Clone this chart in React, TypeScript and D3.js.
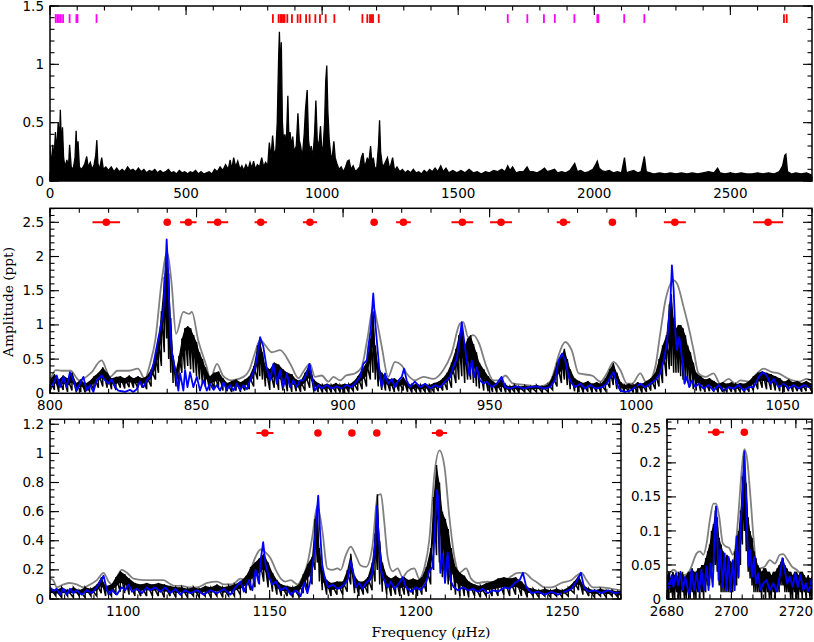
import React from 'react';
import * as d3 from 'd3';

type Pt = [number, number];
type Band = [number, number, number];

// full range periodogram (upper envelope of the black trace), uHz / ppt
const fullSpectrum: Pt[] = [
  [0,0.30],[5,0.12],[10,0.31],[15,0.2],[20,0.42],[25,0.25],[30,0.5],[35,0.35],[38,0.61],[42,0.3],[46,0.46],[50,0.2],[55,0.12],[62,0.18],[68,0.12],[72,0.31],[78,0.12],[85,0.1],[92,0.2],[96,0.43],[100,0.2],[103,0.34],[108,0.12],[115,0.1],[122,0.12],[128,0.15],[135,0.21],[140,0.12],[148,0.16],[155,0.1],[162,0.14],[168,0.22],[172,0.35],[176,0.15],[182,0.1],[190,0.2],[196,0.1],[205,0.12],[215,0.09],[225,0.12],[235,0.08],[245,0.11],[255,0.08],[265,0.1],[275,0.08],[285,0.12],[295,0.09],[305,0.1],[315,0.08],[325,0.11],[335,0.08],[345,0.1],[355,0.07],[365,0.09],[375,0.08],[385,0.1],[395,0.07],[405,0.09],[415,0.07],[425,0.08],[435,0.1],[445,0.07],[455,0.08],[465,0.06],[475,0.09],[485,0.07],[495,0.08],[505,0.06],[515,0.08],[525,0.07],[535,0.09],[545,0.06],[555,0.08],[565,0.06],[575,0.07],[585,0.08],[595,0.06],
  [605,0.1],[615,0.08],[625,0.12],[635,0.09],[645,0.14],[655,0.1],[662,0.18],[668,0.1],[675,0.2],[682,0.12],[690,0.17],[698,0.1],[705,0.13],[712,0.09],[720,0.14],[728,0.1],[735,0.16],[742,0.11],[748,0.17],[755,0.1],[762,0.14],[770,0.12],[778,0.2],[785,0.12],[792,0.16],[800,0.13],[806,0.33],[812,0.2],[818,0.39],[824,0.22],[830,0.27],[835,0.5],[840,1.05],[843,1.28],[847,0.9],[850,1.19],[854,0.5],[858,0.35],[863,0.4],[868,0.3],[874,0.73],[878,0.35],[882,0.42],[887,0.3],[892,0.38],[897,0.25],[905,0.3],[911,0.58],[916,0.35],[921,0.3],[927,0.2],[934,0.4],[939,0.62],[945,0.78],[950,0.35],[955,0.25],[960,0.3],[966,0.2],[972,0.4],[977,0.69],[982,0.35],[988,0.3],[994,0.47],[999,0.25],[1004,0.3],[1009,0.5],[1013,0.85],[1017,0.99],[1021,0.6],[1026,0.35],[1032,0.22],[1037,0.2],[1043,0.34],[1048,0.2],[1054,0.15],[1062,0.1],[1070,0.12],[1078,0.08],[1086,0.12],[1093,0.17],[1099,0.18],[1106,0.1],[1114,0.13],[1122,0.08],[1130,0.1],[1138,0.12],[1144,0.2],[1150,0.24],[1156,0.12],[1162,0.16],[1166,0.2],[1171,0.15],[1178,0.3],[1183,0.15],[1188,0.2],[1193,0.12],[1200,0.1],[1207,0.3],[1211,0.52],[1215,0.25],[1222,0.12],[1230,0.15],[1240,0.2],[1248,0.1],[1259,0.2],[1266,0.09],
  [1275,0.12],[1285,0.08],[1295,0.1],[1305,0.07],[1315,0.09],[1325,0.07],[1335,0.1],[1345,0.07],[1355,0.08],[1365,0.06],[1375,0.09],[1385,0.07],[1395,0.1],[1405,0.08],[1415,0.11],[1425,0.08],[1436,0.13],[1445,0.08],[1455,0.11],[1465,0.07],[1480,0.09],[1495,0.07],[1510,0.09],[1525,0.07],[1540,0.1],[1555,0.07],[1570,0.08],[1585,0.06],[1600,0.08],[1615,0.07],[1630,0.09],[1645,0.08],[1660,0.1],[1672,0.08],[1682,0.13],[1690,0.09],[1700,0.12],[1712,0.07],[1725,0.08],[1740,0.08],[1753,0.12],[1762,0.08],[1775,0.08],[1790,0.07],[1805,0.09],[1817,0.11],[1827,0.08],[1840,0.09],[1854,0.1],[1865,0.07],[1880,0.08],[1895,0.07],[1910,0.09],[1928,0.15],[1938,0.08],[1950,0.09],[1965,0.07],[1980,0.08],[1995,0.1],[2005,0.14],[2011,0.17],[2018,0.11],[2028,0.09],[2040,0.08],[2055,0.09],[2070,0.07],[2085,0.08],[2100,0.07],[2111,0.2],[2118,0.07],[2130,0.08],[2145,0.09],[2160,0.07],[2172,0.08],[2184,0.21],[2191,0.08],[2205,0.07],[2220,0.06],[2240,0.07],[2260,0.06],[2280,0.07],[2300,0.06],[2320,0.07],[2340,0.06],[2360,0.07],[2380,0.06],[2400,0.07],[2420,0.08],[2440,0.07],[2453,0.11],[2462,0.07],[2480,0.06],[2500,0.07],[2520,0.06],[2540,0.07],[2560,0.06],[2580,0.06],[2600,0.07],[2620,0.06],[2640,0.07],[2660,0.06],[2680,0.08],[2692,0.13],[2700,0.22],[2704,0.23],[2710,0.08],[2725,0.06],[2740,0.07],[2760,0.06],[2780,0.07],[2800,0.05],
];

const magentaFreqs = [21, 27, 33, 40, 48, 72, 97, 101, 171, 1682, 1754, 1815, 1855, 1927, 2011, 2015, 2110, 2184];
const redFreqs = [819, 840, 847, 852, 857, 862, 872, 889, 910, 920, 941, 954, 975, 992, 1013, 1045, 1148, 1166, 1176, 1182, 1187, 1208, 2697, 2707];

// 800-1060 uHz panel
const gray2: Pt[] = [
  [800,0.19],[802,0.34],[804,0.33],[807,0.33],[810,0.19],[814,0.3],[817.6,0.48],[820.5,0.24],[823,0.33],[827,0.33],[830,0.36],[832.4,0.21],[834,0.41],[836,0.8],[838,1.6],[840,2.06],[841.5,1.6],[843,0.87],[845.5,1.19],[847.5,1.16],[848.4,1.19],[850.6,0.77],[853.5,0.38],[854.6,0.21],[857,0.43],[859,0.26],[862,0.19],[866,0.24],[868,0.34],[870,0.6],[871.7,0.78],[873.5,0.7],[875.7,0.6],[878.5,0.63],[882,0.43],[884.8,0.22],[886.5,0.32],[888.7,0.43],[890.4,0.24],[892.7,0.26],[895,0.17],[896.7,0.24],[899,0.19],[901,0.26],[904,0.29],[906.3,0.38],[908.3,0.8],[910.3,1.26],[911.8,1.0],[913.2,0.68],[915.4,0.24],[917.7,0.46],[920,0.41],[921.7,0.29],[924.5,0.19],[927.4,0.24],[930.8,0.21],[934.2,0.34],[937,0.58],[939.9,1.02],[941,1.04],[942.7,0.82],[944.5,0.85],[946.2,0.75],[949,0.38],[951.3,0.19],[953.6,0.19],[955.3,0.26],[958.1,0.14],[962.7,0.12],[967,0.1],[970.6,0.17],[972.4,0.38],[973.5,0.55],[975.8,0.75],[978,0.63],[980.4,0.29],[985,0.26],[987.8,0.17],[990,0.29],[992.3,0.46],[994.6,0.34],[996.9,0.14],[998.6,0.14],[1001.4,0.29],[1003.7,0.14],[1006.5,0.38],[1008.2,0.87],[1010,1.36],[1011.7,1.6],[1012.8,1.65],[1014,1.6],[1016.2,1.26],[1017.9,0.97],[1019.6,0.63],[1021.3,0.29],[1023.6,0.24],[1026.4,0.29],[1028.7,0.14],[1031.6,0.21],[1033.8,0.14],[1035.5,0.19],[1038.4,0.17],[1041.2,0.29],[1043.5,0.36],[1046.3,0.31],[1048.6,0.29],[1052,0.21],[1055.5,0.17],[1058.3,0.21],[1060,0.17],
];
// black trace as [freq, low, high] swings
const black2: Band[] = [
  [800,0.02,0.2],[801.5,0.05,0.28],[803,0.02,0.2],[804.5,0.05,0.26],[806,0.02,0.22],[807.5,0.04,0.3],[809,0.01,0.15],[810.5,0.02,0.2],[812,0.01,0.14],[813.5,0.03,0.18],[815,0.05,0.25],[816.5,0.08,0.3],[818,0.1,0.38],[819.5,0.08,0.3],[821,0.06,0.22],[822.5,0.05,0.24],[824,0.08,0.25],[825.5,0.07,0.22],[827,0.09,0.26],[828.5,0.08,0.22],[830,0.07,0.25],[831.5,0.08,0.22],[833,0.06,0.25],[834.5,0.1,0.35],[836,0.2,0.55],[837,0.3,0.8],[838,0.4,1.2],[839,0.6,1.7],[839.8,0.8,2.02],[840.5,0.5,1.75],[841.2,0.3,1.1],[842,0.15,0.55],[843,0.1,0.35],[844,0.15,0.55],[845,0.3,0.8],[846,0.35,0.95],[847,0.4,0.98],[848,0.35,0.95],[849,0.3,0.85],[850,0.25,0.75],[851,0.2,0.6],[852,0.15,0.5],[853,0.1,0.38],[854.5,0.04,0.25],[856,0.06,0.3],[857.5,0.08,0.32],[859,0.04,0.22],[860.5,0.03,0.15],[862,0.02,0.18],[863.5,0.04,0.2],[865,0.02,0.16],[866.5,0.04,0.2],[868,0.06,0.25],[869.5,0.1,0.4],[870.8,0.2,0.7],[871.6,0.25,0.78],[872.5,0.2,0.6],[873.5,0.1,0.4],[875,0.05,0.35],[876.5,0.08,0.45],[878,0.05,0.42],[879.5,0.04,0.35],[881,0.03,0.3],[882.5,0.02,0.28],[884,0.03,0.2],[885.5,0.02,0.18],[887,0.04,0.3],[888.6,0.08,0.42],[890,0.03,0.2],[891.5,0.02,0.15],[893,0.01,0.12],[894.5,0.02,0.14],[896,0.01,0.12],[897.5,0.02,0.15],[899,0.01,0.12],[900.5,0.02,0.14],[902,0.01,0.13],[903.5,0.03,0.17],[905,0.04,0.25],[906.5,0.06,0.35],[908,0.1,0.45],[909.3,0.2,0.8],[910.2,0.3,1.2],[911,0.2,0.7],[912,0.1,0.4],[913.2,0.05,0.3],[914.5,0.04,0.25],[916,0.03,0.2],[917.5,0.02,0.22],[919,0.03,0.18],[920.5,0.04,0.24],[922,0.02,0.15],[923.5,0.01,0.12],[925,0.02,0.14],[926.5,0.01,0.12],[928,0.02,0.14],[929.5,0.01,0.12],[931,0.02,0.15],[932.5,0.03,0.17],[934,0.04,0.22],[935.5,0.05,0.3],[937,0.08,0.45],[938.5,0.15,0.65],[939.5,0.2,0.85],[940.5,0.25,0.97],[941.5,0.15,0.7],[942.5,0.2,0.8],[943.5,0.2,0.85],[944.5,0.15,0.72],[945.5,0.1,0.6],[946.5,0.07,0.45],[948,0.04,0.35],[949.5,0.03,0.25],[951,0.02,0.18],[952.5,0.01,0.14],[954,0.02,0.2],[955.5,0.01,0.12],[957,0.01,0.1],[958.5,0.02,0.12],[960,0.01,0.1],[962,0.02,0.11],[964,0.01,0.1],[966,0.02,0.12],[968,0.01,0.1],[970,0.02,0.13],[971.5,0.05,0.25],[973,0.1,0.45],[974.5,0.15,0.55],[975.5,0.2,0.65],[976.5,0.12,0.5],[977.5,0.06,0.35],[979,0.03,0.22],[980.5,0.02,0.18],[982,0.01,0.15],[983.5,0.02,0.18],[985,0.01,0.14],[986.5,0.02,0.16],[988,0.01,0.14],[989.5,0.04,0.22],[991,0.08,0.35],[992.2,0.12,0.44],[993.4,0.06,0.3],[994.8,0.02,0.16],[996,0.01,0.12],[997.5,0.02,0.14],[999,0.01,0.12],[1000.5,0.02,0.16],[1002,0.01,0.14],[1003.5,0.02,0.18],[1005,0.04,0.22],[1006.5,0.06,0.3],[1007.8,0.1,0.5],[1009,0.15,0.7],[1010.3,0.25,0.85],[1011.3,0.35,1.3],[1012,0.4,1.45],[1012.8,0.3,1.1],[1013.6,0.3,0.95],[1014.4,0.3,1.0],[1015.2,0.25,1.0],[1016,0.2,0.95],[1016.8,0.2,0.85],[1017.6,0.15,0.7],[1018.5,0.1,0.6],[1019.5,0.06,0.45],[1020.5,0.04,0.3],[1022,0.03,0.25],[1023.5,0.02,0.2],[1025,0.03,0.22],[1026.5,0.02,0.18],[1028,0.01,0.14],[1029.5,0.02,0.16],[1031,0.01,0.14],[1032.5,0.02,0.16],[1034,0.01,0.13],[1035.5,0.02,0.15],[1037,0.01,0.14],[1038.5,0.02,0.18],[1040,0.04,0.25],[1041.5,0.06,0.3],[1043,0.08,0.32],[1044.5,0.06,0.3],[1046,0.05,0.28],[1047.5,0.04,0.25],[1049,0.03,0.22],[1050.5,0.02,0.17],[1052,0.03,0.2],[1053.5,0.02,0.16],[1055,0.03,0.18],[1056.5,0.02,0.15],[1058,0.03,0.18],[1060,0.02,0.14],
];
const blue2: Pt[] = [
  [800,0.04],[801.1,0.14],[802.3,0.26],[803.4,0.09],[804.6,0.24],[805.7,0.09],[806.8,0.31],[808,0.19],[809.1,0.04],[810.2,0.14],[811.4,0.24],[812.5,0.04],[813.7,0.12],[814.8,0.02],[815.9,0.19],[817.6,0.26],[818.8,0.19],[819.9,0.14],[821,0.21],[822.2,0.09],[823.3,0.04],[824.5,0.03],[825.6,0.02],[827.3,0.05],[828.4,0.02],[829.6,0.06],[830.7,0.17],[831.9,0.09],[833,0.19],[834.1,0.24],[835.3,0.43],[836.4,0.68],[837.5,0.92],[838.7,1.21],[839.5,1.9],[839.8,2.25],[840.2,1.9],[841,0.92],[841.5,0.63],[842.7,0.34],[843.8,0.04],[844.4,0.29],[845.5,0.04],[846.1,0.34],[846.9,0.09],[847.8,0.31],[848.9,0.09],[850.1,0.24],[851.2,0.04],[852.3,0.19],[853.5,0.04],[854.6,0.14],[855.8,0.05],[856.9,0.12],[858,0.04],[859.2,0.16],[860.3,0.05],[861.4,0.12],[862.6,0.04],[863.7,0.14],[864.9,0.05],[866,0.12],[867.2,0.06],[868.3,0.19],[870,0.38],[871.7,0.82],[872.8,0.68],[873.9,0.38],[875.1,0.19],[876.2,0.43],[877.4,0.14],[878.5,0.34],[879.6,0.09],[880.8,0.29],[881.9,0.09],[883,0.19],[884.2,0.09],[885.3,0.19],[886.4,0.19],[887.6,0.29],[888.5,0.43],[889.3,0.24],[890.4,0.04],[891.6,0.12],[892.7,0.07],[894.4,0.12],[896.1,0.07],[897.8,0.1],[899.5,0.07],[901.2,0.12],[902.9,0.09],[904.6,0.17],[905.8,0.24],[906.9,0.43],[908.1,0.48],[908.6,0.68],[909.4,0.92],[910.3,1.46],[911,1.02],[911.7,0.68],[912.6,0.24],[913.2,0.09],[914.3,0.29],[915.4,0.14],[916.6,0.21],[917.7,0.09],[918.9,0.19],[920,0.24],[920.8,0.36],[921.7,0.19],[922.8,0.09],[924.5,0.17],[926.3,0.09],[928,0.14],[929.7,0.07],[931.4,0.12],[933.1,0.09],[934.8,0.17],[936.5,0.24],[937.6,0.38],[938.8,0.51],[939.7,0.77],[940.5,1.04],[941.3,0.77],[942.2,0.48],[943.1,0.26],[943.9,0.48],[944.7,0.24],[945.6,0.38],[946.7,0.19],[947.9,0.14],[949,0.17],[950.7,0.09],[952.4,0.14],[954.1,0.24],[955.3,0.09],[957,0.07],[959.2,0.1],[961.5,0.07],[963.8,0.09],[966.1,0.1],[968.3,0.07],[970.6,0.09],[972.3,0.19],[973.5,0.48],[974.7,0.58],[975.8,0.48],[977,0.24],[978.1,0.14],[979.2,0.09],[980.9,0.14],[982.6,0.07],[984.3,0.12],[986.1,0.07],[988.3,0.09],[990,0.14],[991.2,0.24],[992.3,0.31],[993.4,0.14],[994.6,0.04],[996.3,0.02],[998,0.04],[999.7,0.09],[1001.4,0.14],[1003.1,0.09],[1004.8,0.14],[1006.5,0.19],[1008.2,0.29],[1009.4,0.48],[1010.5,0.73],[1011.7,1.36],[1012.2,1.87],[1012.8,1.51],[1013.4,0.87],[1013.9,0.63],[1014.7,0.82],[1015.6,0.53],[1016.5,0.14],[1017.3,0.24],[1018.1,0.09],[1019,0.19],[1020.2,0.09],[1021.3,0.14],[1023,0.07],[1024.7,0.12],[1026.4,0.04],[1028.1,0.12],[1029.9,0.04],[1031.6,0.09],[1033.3,0.07],[1035,0.12],[1036.7,0.04],[1038.4,0.09],[1040.1,0.09],[1041.8,0.24],[1043.2,0.31],[1044.6,0.26],[1045.8,0.14],[1046.9,0.21],[1048.6,0.09],[1050.3,0.14],[1052,0.07],[1053.7,0.12],[1055.5,0.07],[1057.2,0.12],[1058.9,0.09],[1060,0.12],
];
// [freq, half error bar]
const dots2: Pt[] = [[819.2,4.7],[840.0,0],[847.2,2.8],[857.2,3.6],[871.9,2.1],[888.7,2.4],[910.6,0],[920.6,2.5],[940.7,3.7],[953.9,3.75],[975.2,2.3],[991.9,0],[1013.2,3.75],[1045,5.1]];
const dots2Level = 2.5;

// 1075-1270 uHz panel
const gray3: Pt[] = [
  [1075,0.14],[1076.1,0.13],[1077.3,0.08],[1079.6,0.1],[1081.8,0.11],[1084.1,0.1],[1086.4,0.08],[1088.7,0.1],[1091,0.13],[1093.3,0.18],[1095,0.12],[1096.1,0.1],[1097.8,0.15],[1099.5,0.2],[1101.3,0.18],[1103.5,0.14],[1107,0.13],[1110.4,0.13],[1113.8,0.13],[1115.5,0.11],[1117.8,0.09],[1120.1,0.09],[1122.4,0.08],[1125.2,0.08],[1128.7,0.11],[1132.1,0.12],[1134.4,0.1],[1137.2,0.1],[1140.1,0.14],[1141.8,0.13],[1143.5,0.2],[1145.2,0.29],[1146.9,0.34],[1148.6,0.32],[1150.3,0.28],[1152.1,0.2],[1153.8,0.14],[1155.5,0.12],[1157.2,0.13],[1159.5,0.1],[1161.2,0.15],[1162.9,0.24],[1164.6,0.43],[1166.3,0.64],[1168,0.47],[1169.7,0.21],[1171.5,0.2],[1173.2,0.21],[1174.3,0.2],[1176,0.3],[1177.7,0.36],[1179.4,0.3],[1181.1,0.23],[1182.9,0.22],[1185.1,0.36],[1186.9,0.71],[1188,0.72],[1189.1,0.54],[1190.3,0.29],[1192,0.19],[1193.7,0.21],[1195.4,0.15],[1197.1,0.19],[1199.4,0.21],[1201.1,0.14],[1202.8,0.21],[1204.5,0.4],[1206.3,0.86],[1208,1.02],[1209.7,0.91],[1211.4,0.56],[1213.1,0.29],[1214.8,0.18],[1217.1,0.21],[1218.8,0.14],[1221.1,0.11],[1224.5,0.12],[1228,0.11],[1231.4,0.14],[1234.8,0.18],[1237.1,0.18],[1239.4,0.14],[1241.6,0.11],[1243.9,0.08],[1246.2,0.08],[1249.6,0.11],[1253.1,0.13],[1254.8,0.16],[1256.5,0.18],[1258.2,0.13],[1260.5,0.08],[1263.3,0.08],[1266.8,0.07],[1270,0.06],
];
const black3: Band[] = [
  [1075,0.01,0.08],[1077,0.02,0.06],[1079,0.01,0.08],[1081,0.02,0.06],[1083,0.01,0.08],[1085,0.02,0.06],[1087,0.01,0.08],[1089,0.02,0.07],[1091,0.02,0.1],[1092.5,0.04,0.15],[1094,0.02,0.09],[1096,0.02,0.1],[1097.5,0.03,0.15],[1099,0.05,0.19],[1100.5,0.04,0.17],[1102,0.03,0.14],[1104,0.02,0.11],[1106,0.02,0.1],[1108,0.02,0.11],[1110,0.02,0.1],[1112,0.02,0.11],[1114,0.01,0.1],[1116,0.02,0.09],[1118,0.01,0.08],[1120,0.02,0.08],[1122,0.01,0.07],[1124,0.02,0.08],[1126,0.01,0.07],[1128,0.02,0.09],[1130,0.01,0.08],[1132,0.02,0.1],[1134,0.01,0.08],[1136,0.02,0.09],[1138,0.02,0.1],[1140,0.03,0.12],[1142,0.04,0.16],[1143.5,0.06,0.22],[1145,0.08,0.25],[1146.5,0.1,0.28],[1148,0.12,0.31],[1149.5,0.08,0.25],[1151,0.05,0.18],[1152.5,0.03,0.13],[1154,0.02,0.1],[1156,0.02,0.09],[1158,0.01,0.08],[1160,0.02,0.1],[1161.5,0.04,0.17],[1163,0.06,0.24],[1164.5,0.1,0.29],[1165.5,0.2,0.55],[1166.3,0.25,0.62],[1167,0.12,0.35],[1168,0.06,0.2],[1169.5,0.03,0.13],[1171,0.02,0.11],[1173,0.03,0.12],[1175,0.03,0.12],[1176.5,0.05,0.2],[1177.7,0.1,0.31],[1179,0.04,0.16],[1180.5,0.02,0.12],[1182,0.03,0.12],[1183.5,0.04,0.15],[1185,0.06,0.25],[1186,0.12,0.45],[1186.8,0.2,0.72],[1187.6,0.1,0.4],[1188.5,0.05,0.25],[1190,0.03,0.16],[1191.5,0.02,0.14],[1193,0.03,0.16],[1194.5,0.02,0.14],[1196,0.03,0.15],[1197.5,0.02,0.13],[1199,0.03,0.14],[1200.5,0.02,0.13],[1202,0.03,0.15],[1203.5,0.05,0.22],[1205,0.1,0.35],[1206,0.2,0.7],[1207,0.3,0.92],[1208,0.25,0.8],[1209,0.15,0.6],[1210,0.12,0.55],[1211,0.1,0.48],[1212,0.06,0.35],[1213.5,0.03,0.22],[1215,0.02,0.18],[1216.5,0.02,0.16],[1218,0.01,0.12],[1220,0.02,0.1],[1222,0.01,0.09],[1224,0.02,0.11],[1226,0.02,0.12],[1228,0.02,0.14],[1230,0.03,0.15],[1232,0.02,0.14],[1234,0.03,0.15],[1236,0.02,0.12],[1238,0.01,0.08],[1240,0.02,0.07],[1242,0.01,0.06],[1244,0.02,0.07],[1246,0.01,0.06],[1248,0.02,0.07],[1250,0.01,0.06],[1252,0.02,0.08],[1254,0.04,0.12],[1255.5,0.06,0.16],[1257,0.03,0.1],[1259,0.02,0.07],[1261,0.01,0.06],[1263,0.02,0.07],[1265,0.01,0.06],[1267,0.02,0.06],[1269,0.01,0.05],[1270,0.02,0.05],
];
const blue3: Pt[] = [
  [1075,0.08],[1076.1,0.05],[1077.3,0.07],[1078.4,0.03],[1079.6,0.07],[1080.7,0.03],[1081.8,0.07],[1083,0.04],[1084.1,0.06],[1085.8,0.03],[1087.6,0.06],[1089.3,0.04],[1091,0.08],[1092.1,0.12],[1093.3,0.16],[1094.2,0.08],[1095,0.03],[1096.1,0.06],[1097.8,0.03],[1099.5,0.08],[1100.7,0.06],[1101.8,0.1],[1103,0.05],[1104.7,0.07],[1106.4,0.04],[1108.1,0.08],[1109.2,0.06],[1111,0.08],[1112.7,0.05],[1114.4,0.08],[1116.1,0.04],[1117.8,0.07],[1119.5,0.03],[1121.2,0.06],[1123,0.04],[1125.2,0.06],[1127.5,0.03],[1129.8,0.06],[1132.1,0.04],[1134.4,0.07],[1136.6,0.03],[1138.4,0.08],[1140.1,0.12],[1141.2,0.05],[1142.9,0.13],[1144.1,0.06],[1145.2,0.2],[1146.3,0.11],[1147.1,0.29],[1147.8,0.39],[1148.6,0.24],[1149.8,0.15],[1150.9,0.1],[1152.1,0.12],[1153.8,0.06],[1155.5,0.08],[1157.2,0.03],[1158.9,0.06],[1160.6,0.02],[1161.8,0.11],[1162.9,0.04],[1164,0.13],[1165.2,0.31],[1165.9,0.54],[1166.6,0.71],[1167.2,0.47],[1168,0.23],[1168.8,0.15],[1170,0.08],[1171.5,0.1],[1173.2,0.07],[1174.3,0.08],[1175.4,0.1],[1176.6,0.13],[1177.7,0.26],[1178.6,0.18],[1179.4,0.08],[1180.6,0.11],[1181.7,0.07],[1182.9,0.11],[1184,0.13],[1185.1,0.18],[1186.1,0.4],[1186.6,0.64],[1187.2,0.45],[1188,0.2],[1189.1,0.13],[1190.3,0.08],[1191.4,0.12],[1192.6,0.07],[1194.3,0.11],[1195.4,0.15],[1196.6,0.08],[1198.3,0.05],[1200,0.08],[1201.7,0.06],[1203.4,0.11],[1204.5,0.19],[1205.7,0.22],[1206.5,0.52],[1207.2,0.75],[1207.6,0.68],[1208.3,0.18],[1209.1,0.31],[1209.9,0.11],[1210.8,0.32],[1211.7,0.13],[1212.9,0.08],[1214.3,0.06],[1216,0.08],[1217.7,0.06],[1219.4,0.07],[1221.1,0.05],[1222.8,0.07],[1224.5,0.04],[1226.2,0.06],[1228,0.05],[1230.2,0.08],[1231.9,0.07],[1233.7,0.11],[1235.4,0.13],[1236.5,0.18],[1237.7,0.08],[1239.4,0.04],[1241.6,0.05],[1243.9,0.03],[1246.2,0.05],[1248.5,0.03],[1250.8,0.05],[1253.1,0.07],[1254.8,0.12],[1256.3,0.18],[1257.4,0.08],[1258.8,0.05],[1261.1,0.06],[1263.3,0.04],[1265.6,0.06],[1267.9,0.04],[1270,0.05],
];
const dots3: Pt[] = [[1148.4,2.9],[1166.5,0],[1178.1,0],[1186.6,0],[1208,2.6]];
const dots3Level = 1.14;

// 2680-2725 uHz panel
const gray4: Pt[] = [
  [2680,0.03],[2680.9,0.038],[2682,0.043],[2683.5,0.038],[2685.1,0.035],[2686.6,0.038],[2687.6,0.048],[2689.2,0.067],[2690.2,0.07],[2691.3,0.065],[2692.3,0.082],[2693.3,0.116],[2694.4,0.14],[2695.2,0.14],[2696.2,0.121],[2697.3,0.082],[2698.3,0.077],[2699.3,0.075],[2700.4,0.065],[2701.1,0.072],[2702.1,0.121],[2703.2,0.19],[2704,0.22],[2704.9,0.204],[2705.9,0.15],[2707,0.082],[2708,0.043],[2709,0.045],[2710.4,0.048],[2711.9,0.057],[2713.5,0.052],[2715,0.065],[2716.1,0.066],[2717.1,0.06],[2718.7,0.048],[2720.2,0.043],[2721.8,0.035],[2723.3,0.03],[2725,0.025],
];
const black4: Band[] = [
  [2680,0.01,0.035],[2680.6,0.0,0.04],[2681.2,0.01,0.03],[2681.8,0.0,0.04],[2682.4,0.0,0.035],[2683,0.01,0.03],[2683.6,0.0,0.04],[2684.2,0.0,0.035],[2684.8,0.01,0.04],[2685.4,0.0,0.03],[2686,0.0,0.035],[2686.6,0.01,0.04],[2687.2,0.0,0.04],[2687.8,0.01,0.045],[2688.4,0.0,0.04],[2689,0.0,0.04],[2689.6,0.01,0.045],[2690.2,0.0,0.045],[2690.8,0.01,0.05],[2691.4,0.0,0.05],[2692,0.01,0.06],[2692.6,0.02,0.07],[2693.2,0.02,0.08],[2693.8,0.03,0.1],[2694.4,0.04,0.11],[2695,0.05,0.13],[2695.6,0.04,0.12],[2696.2,0.02,0.09],[2696.8,0.01,0.08],[2697.4,0.01,0.07],[2698,0.01,0.06],[2698.6,0.01,0.065],[2699.2,0.01,0.06],[2699.8,0.01,0.055],[2700.4,0.01,0.05],[2701,0.02,0.07],[2701.6,0.02,0.09],[2702.2,0.03,0.1],[2702.8,0.05,0.13],[2703.4,0.08,0.18],[2704,0.1,0.21],[2704.6,0.07,0.17],[2705.2,0.04,0.12],[2705.8,0.03,0.1],[2706.4,0.02,0.09],[2707,0.01,0.07],[2707.6,0.01,0.06],[2708.2,0.01,0.05],[2708.8,0.01,0.045],[2709.4,0.0,0.04],[2710,0.01,0.045],[2710.6,0.0,0.045],[2711.2,0.01,0.04],[2711.8,0.0,0.04],[2712.4,0.0,0.035],[2713,0.01,0.04],[2713.6,0.0,0.04],[2714.2,0.01,0.045],[2714.8,0.01,0.05],[2715.4,0.02,0.055],[2716,0.02,0.06],[2716.6,0.01,0.05],[2717.2,0.01,0.045],[2717.8,0.01,0.04],[2718.4,0.0,0.04],[2719,0.0,0.035],[2719.6,0.01,0.04],[2720.2,0.0,0.04],[2720.8,0.0,0.035],[2721.4,0.01,0.04],[2722,0.0,0.04],[2722.6,0.01,0.035],[2723.2,0.0,0.03],[2723.8,0.01,0.035],[2724.4,0.0,0.03],[2725,0.0,0.03],
];
const blue4: Pt[] = [
  [2680,0.028],[2680.7,0.016],[2681.4,0.035],[2682,0.018],[2682.8,0.038],[2683.5,0.02],[2684.2,0.04],[2684.9,0.013],[2685.6,0.033],[2686.3,0.018],[2686.9,0.003],[2687.6,0.043],[2688.4,0.013],[2689.2,0.038],[2690,0.011],[2690.7,0.043],[2691.5,0.013],[2692.3,0.048],[2692.9,0.013],[2693.5,0.052],[2694.2,0.018],[2694.8,0.101],[2695.2,0.136],[2695.6,0.092],[2696,0.028],[2696.6,0.072],[2697.3,0.018],[2697.9,0.067],[2698.5,0.013],[2699.1,0.062],[2699.7,0.011],[2700.4,0.057],[2701,0.013],[2701.6,0.092],[2702.2,0.033],[2702.8,0.106],[2703.5,0.155],[2704,0.217],[2704.5,0.155],[2704.9,0.092],[2705.3,0.048],[2705.8,0.072],[2706.4,0.033],[2707,0.062],[2707.6,0.023],[2708.3,0.038],[2709,0.013],[2709.9,0.023],[2710.9,0.028],[2711.9,0.013],[2713,0.023],[2714,0.011],[2715,0.033],[2715.8,0.06],[2716.5,0.043],[2717.3,0.023],[2718.1,0.033],[2719,0.018],[2719.8,0.038],[2720.6,0.018],[2721.4,0.035],[2722.3,0.013],[2723.1,0.023],[2723.8,0.011],[2724.5,0.018],[2725,0.033],
];
const dots4: Pt[] = [[2695.2,2.5],[2704.0,0]];
const dots4Level = 0.245;

const TICK_FONT = "'DejaVu Sans', sans-serif";
const TITLE_FONT = "'DejaVu Serif', serif";
const BLUE = '#0000ff';
const GRAY = '#808080';
const RED = '#ff0000';
const MAGENTA = '#ff00ff';

type Scale = d3.ScaleLinear<number, number>;

interface PanelProps {
  id: string;
  left: number; right: number; top: number; bottom: number;
  xDomain: [number, number]; yDomain: [number, number];
  xMajor: number; xMinor: number; yMajor: number; yMinor: number;
  draw: (x: Scale, y: Scale) => React.ReactNode;
}

function steps(d: [number, number], step: number) {
  const start = Math.ceil(d[0] / step - 1e-6) * step;
  return d3.range(start, d[1] + step * 1e-3, step);
}
const fmt = (v: number) => String(+v.toFixed(3));

function Panel({ id, left, right, top, bottom, xDomain, yDomain, xMajor, xMinor, yMajor, yMinor, draw }: PanelProps) {
  const x = d3.scaleLinear().domain(xDomain).range([left, right]);
  const y = d3.scaleLinear().domain(yDomain).range([bottom, top]);
  const MJ = 9, MN = 4.5;
  return (
    <g>
      <defs>
        <clipPath id={id}>
          <rect x={left} y={top} width={right - left} height={bottom - top} />
        </clipPath>
      </defs>
      <g clipPath={`url(#${id})`}>{draw(x, y)}</g>
      <g stroke="#000" strokeWidth={1.1}>
        {steps(xDomain, xMinor).map((v, i) => (
          <g key={'xn' + i}>
            <line x1={x(v)} x2={x(v)} y1={bottom} y2={bottom - MN} />
            <line x1={x(v)} x2={x(v)} y1={top} y2={top + MN} />
          </g>
        ))}
        {steps(xDomain, xMajor).map((v, i) => (
          <g key={'xj' + i}>
            <line x1={x(v)} x2={x(v)} y1={bottom} y2={bottom - MJ} />
            <line x1={x(v)} x2={x(v)} y1={top} y2={top + MJ} />
          </g>
        ))}
        {steps(yDomain, yMinor).map((v, i) => (
          <g key={'yn' + i}>
            <line x1={left} x2={left + MN} y1={y(v)} y2={y(v)} />
            <line x1={right} x2={right - MN} y1={y(v)} y2={y(v)} />
          </g>
        ))}
        {steps(yDomain, yMajor).map((v, i) => (
          <g key={'yj' + i}>
            <line x1={left} x2={left + MJ} y1={y(v)} y2={y(v)} />
            <line x1={right} x2={right - MJ} y1={y(v)} y2={y(v)} />
          </g>
        ))}
      </g>
      <rect x={left} y={top} width={right - left} height={bottom - top} fill="none" stroke="#000" strokeWidth={1.5} />
      <g fontFamily={TICK_FONT} fontSize={13.5} fill="#000">
        {steps(xDomain, xMajor).map((v, i) => (
          <text key={'xl' + i} x={x(v)} y={bottom + 17} textAnchor="middle">{fmt(v)}</text>
        ))}
        {steps(yDomain, yMajor).map((v, i) => (
          <text key={'yl' + i} x={left - 6} y={y(v)} dy="0.34em" textAnchor="end">{fmt(v)}</text>
        ))}
      </g>
    </g>
  );
}

function Spectra({ x, y, gray, black, blue, dots, level }: {
  x: Scale; y: Scale; gray: Pt[]; black: Band[]; blue: Pt[]; dots: Pt[]; level: number;
}) {
  const grayLine = d3.line<Pt>().x(d => x(d[0])).y(d => y(d[1])).curve(d3.curveMonotoneX);
  // black trace swings between its low and high value at every listed frequency
  const swing = d3.line<Pt>().x(d => x(d[0])).y(d => y(d[1]));
  const swingPts: Pt[] = black.flatMap(d => [[d[0], d[1]], [d[0], d[2]]] as Pt[]);
  const band = d3.area<Band>().x(d => x(d[0])).y0(d => y(d[1] + (d[2] - d[1]) * 0.45)).y1(d => y(d[2]));
  const blueLine = d3.line<Pt>().x(d => x(d[0])).y(d => y(d[1]));
  return (
    <g>
      <path d={grayLine(gray) ?? ''} fill="none" stroke={GRAY} strokeWidth={1.8} />
      <path d={band(black) ?? ''} fill="#000" stroke="none" />
      <path d={swing(swingPts) ?? ''} fill="none" stroke="#000" strokeWidth={1.5} />
      <path d={blueLine(blue) ?? ''} fill="none" stroke={BLUE} strokeWidth={1.8} strokeLinejoin="round" />
      {dots.map((d, i) => (
        <g key={i}>
          {d[1] > 0 && <line x1={x(d[0] - d[1])} x2={x(d[0] + d[1])} y1={y(level)} y2={y(level)} stroke={RED} strokeWidth={2} />}
          <circle cx={x(d[0])} cy={y(level)} r={3.8} fill={RED} />
        </g>
      ))}
    </g>
  );
}

export default function App() {
  return (
    <svg width={814} height={642} style={{ position: 'absolute', left: 0, top: 0, background: '#fff' }}>
      <Panel
        id="p1" left={50} right={812} top={6} bottom={181}
        xDomain={[0, 2800]} yDomain={[0, 1.5]} xMajor={500} xMinor={100} yMajor={0.5} yMinor={0.1}
        draw={(x, y) => {
          const env = d3.area<Pt>().x(d => x(d[0])).y0(y(0)).y1(d => y(d[1]));
          return (
            <g>
              <path d={env(fullSpectrum) ?? ''} fill="#000" stroke="#000" strokeWidth={1.3} />
              {magentaFreqs.map((f, i) => (
                <line key={'m' + i} x1={x(f)} x2={x(f)} y1={y(1.355)} y2={y(1.43)} stroke={MAGENTA} strokeWidth={1.8} />
              ))}
              {redFreqs.map((f, i) => (
                <line key={'r' + i} x1={x(f)} x2={x(f)} y1={y(1.355)} y2={y(1.43)} stroke={RED} strokeWidth={1.8} />
              ))}
            </g>
          );
        }}
      />
      <Panel
        id="p2" left={50} right={812} top={208.3} bottom={393.3}
        xDomain={[800, 1060]} yDomain={[0, 2.705]} xMajor={50} xMinor={10} yMajor={0.5} yMinor={0.1}
        draw={(x, y) => <Spectra x={x} y={y} gray={gray2} black={black2} blue={blue2} dots={dots2} level={dots2Level} />}
      />
      <Panel
        id="p3" left={50} right={621} top={419.3} bottom={599}
        xDomain={[1075, 1270]} yDomain={[0, 1.234]} xMajor={50} xMinor={5} yMajor={0.2} yMinor={0.05}
        draw={(x, y) => <Spectra x={x} y={y} gray={gray3} black={black3} blue={blue3} dots={dots3} level={dots3Level} />}
      />
      <Panel
        id="p4" left={667} right={812} top={419.3} bottom={599}
        xDomain={[2680, 2725]} yDomain={[0, 0.264]} xMajor={20} xMinor={20 / 6} yMajor={0.05} yMinor={0.01}
        draw={(x, y) => <Spectra x={x} y={y} gray={gray4} black={black4} blue={blue4} dots={dots4} level={dots4Level} />}
      />
      <text
        transform="translate(13,302) rotate(-90)" textAnchor="middle"
        fontFamily={TITLE_FONT} fontSize={13} textLength={110} lengthAdjust="spacingAndGlyphs"
      >
        Amplitude (ppt)
      </text>
      <text
        x={431} y={637} textAnchor="middle"
        fontFamily={TITLE_FONT} fontSize={13} textLength={119} lengthAdjust="spacingAndGlyphs"
      >
        Frequency (<tspan fontStyle="italic">μ</tspan>Hz)
      </text>
    </svg>
  );
}
